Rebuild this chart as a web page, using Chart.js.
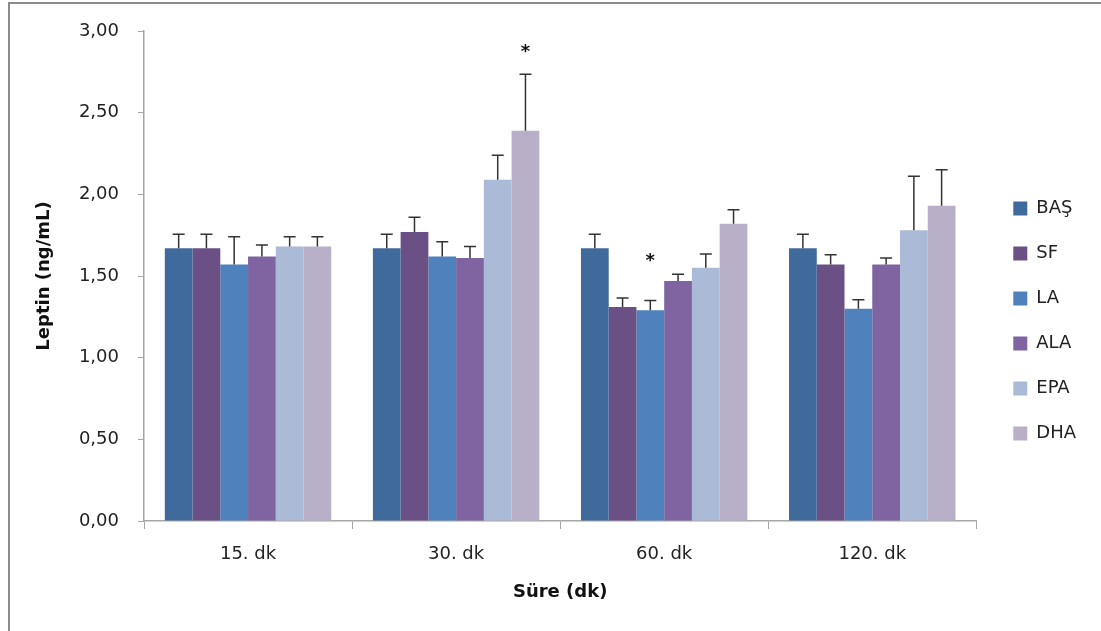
<!DOCTYPE html>
<html>
<head>
<meta charset="utf-8">
<script src="https://cdn.jsdelivr.net/npm/chart.js@4"></script>
<style>
    body { margin: 0; background: #ffffff; }
    #wrap { width: 1101px; height: 631px; position: relative; }
</style>
</head>
<body>
<div id="wrap"><canvas id="leptinChart"></canvas></div>
<script>
const categories = ["15. dk", "30. dk", "60. dk", "120. dk"];
const seriesNames = ["BAŞ", "SF", "LA", "ALA", "EPA", "DHA"];

// mean values per group
const bas = [1.67, 1.67, 1.67, 1.67];
const sf = [1.67, 1.77, 1.31, 1.57];
const la = [1.57, 1.62, 1.29, 1.30];
const ala = [1.62, 1.61, 1.47, 1.57];
const epa = [1.68, 2.09, 1.55, 1.78];
const dha = [1.68, 2.39, 1.82, 1.93];

// standard error (upper bars only)
const basErr = [0.085, 0.085, 0.085, 0.085];
const sfErr = [0.085, 0.09, 0.055, 0.06];
const laErr = [0.17, 0.09, 0.06, 0.055];
const alaErr = [0.07, 0.07, 0.04, 0.04];
const epaErr = [0.06, 0.15, 0.085, 0.33];
const dhaErr = [0.06, 0.345, 0.085, 0.22];

// significance marks: [group index, series index, level]
const stars = [
    [1, 5, 2.88],
    [2, 2, 1.60],
];

const yTicks = [0, 0.5, 1, 1.5, 2, 2.5, 3];

const colors = ["#406A9C", "#6A5085", "#4F81BD", "#8064A2", "#AABAD7", "#BAAFC9"];
const values = [bas, sf, la, ala, epa, dha];
const errors = [basErr, sfErr, laErr, alaErr, epaErr, dhaErr];

const FONT = "DejaVu Sans";

// grey frame of the original chart object
const framePlugin = {
    id: "frame",
    afterLayout(chart) {
        // push legend a bit away from the plot area
        const legend = chart.legend;
        if (legend) {
            legend.left += 10;
            legend.right += 10;
        }
    },
    beforeDraw(chart) {
        const ctx = chart.ctx;
        ctx.save();
        ctx.fillStyle = "#ffffff";
        ctx.fillRect(0, 0, chart.width, chart.height);
        ctx.strokeStyle = "#8c8c8c";
        ctx.lineWidth = 2;
        ctx.beginPath();
        ctx.moveTo(9, chart.height);
        ctx.lineTo(9, 3);
        ctx.lineTo(chart.width, 3);
        ctx.stroke();
        ctx.restore();
    },
};

const errorBarPlugin = {
    id: "errorBars",
    afterDatasetsDraw(chart) {
        const ctx = chart.ctx;
        const yScale = chart.scales.y;
        ctx.save();
        ctx.strokeStyle = "#333333";
        ctx.lineWidth = 1.5;
        chart.data.datasets.forEach((ds, i) => {
            const meta = chart.getDatasetMeta(i);
            meta.data.forEach((bar, j) => {
                const top = yScale.getPixelForValue(values[i][j] + errors[i][j]);
                ctx.beginPath();
                ctx.moveTo(bar.x, bar.y);
                ctx.lineTo(bar.x, top);
                ctx.moveTo(bar.x - 6, top);
                ctx.lineTo(bar.x + 6, top);
                ctx.stroke();
            });
        });

        // asterisks
        ctx.fillStyle = "#111111";
        ctx.font = "bold 18px " + FONT;
        ctx.textAlign = "center";
        ctx.textBaseline = "middle";
        stars.forEach(s => {
            const bar = chart.getDatasetMeta(s[1]).data[s[0]];
            ctx.fillText("*", bar.x, yScale.getPixelForValue(s[2]) + 2);
        });
        ctx.restore();
    },
};

function setChart() {
    const ctx = document.getElementById("leptinChart").getContext("2d");

    new Chart(ctx, {
        type: "bar",
        data: {
            labels: categories,
            datasets: seriesNames.map((name, i) => ({
                label: name,
                data: values[i],
                backgroundColor: colors[i],
                borderWidth: 0,
                barPercentage: 1.0,
                categoryPercentage: 0.8,
            })),
        },
        options: {
            responsive: true,
            maintainAspectRatio: false,
            animation: false,
            layout: {
                padding: { left: 0, top: 31, right: 25, bottom: 20 },
            },
            plugins: {
                tooltip: { enabled: false },
                legend: {
                    position: "right",
                    labels: {
                        boxWidth: 14,
                        boxHeight: 14,
                        padding: 27,
                        color: "#222222",
                        font: { family: FONT, size: 18 },
                    },
                },
            },
            scales: {
                x: {
                    grid: {
                        display: true,
                        drawOnChartArea: false,
                        tickLength: 8,
                        tickColor: "#a6a6a6",
                        offset: true,
                    },
                    border: { color: "#a6a6a6", width: 1.5 },
                    ticks: {
                        color: "#222222",
                        padding: 15,
                        font: { family: FONT, size: 18 },
                    },
                    title: {
                        display: true,
                        text: "Süre (dk)",
                        color: "#111111",
                        font: { family: FONT, size: 18, weight: "bold" },
                        padding: { top: 0, bottom: 8 },
                    },
                    afterFit: scale => {
                        scale.height = 90;
                    },
                },
                y: {
                    min: 0,
                    max: 3,
                    afterBuildTicks: scale => {
                        scale.ticks = yTicks.map(v => ({ value: v }));
                    },
                    grid: {
                        display: true,
                        drawOnChartArea: false,
                        tickLength: 6,
                        tickColor: "#a6a6a6",
                    },
                    border: { color: "#a6a6a6", width: 1.5 },
                    ticks: {
                        color: "#222222",
                        padding: 19,
                        font: { family: FONT, size: 18 },
                        callback: v => v.toFixed(2).replace(".", ","),
                    },
                    title: {
                        display: true,
                        text: "Leptin (ng/mL)",
                        color: "#111111",
                        font: { family: FONT, size: 18, weight: "bold" },
                        padding: { top: 34, bottom: 0 },
                    },
                    afterFit: scale => {
                        scale.width = 144;
                    },
                },
            },
        },
        plugins: [framePlugin, errorBarPlugin],
    });
}

setChart();
</script>
</body>
</html>
